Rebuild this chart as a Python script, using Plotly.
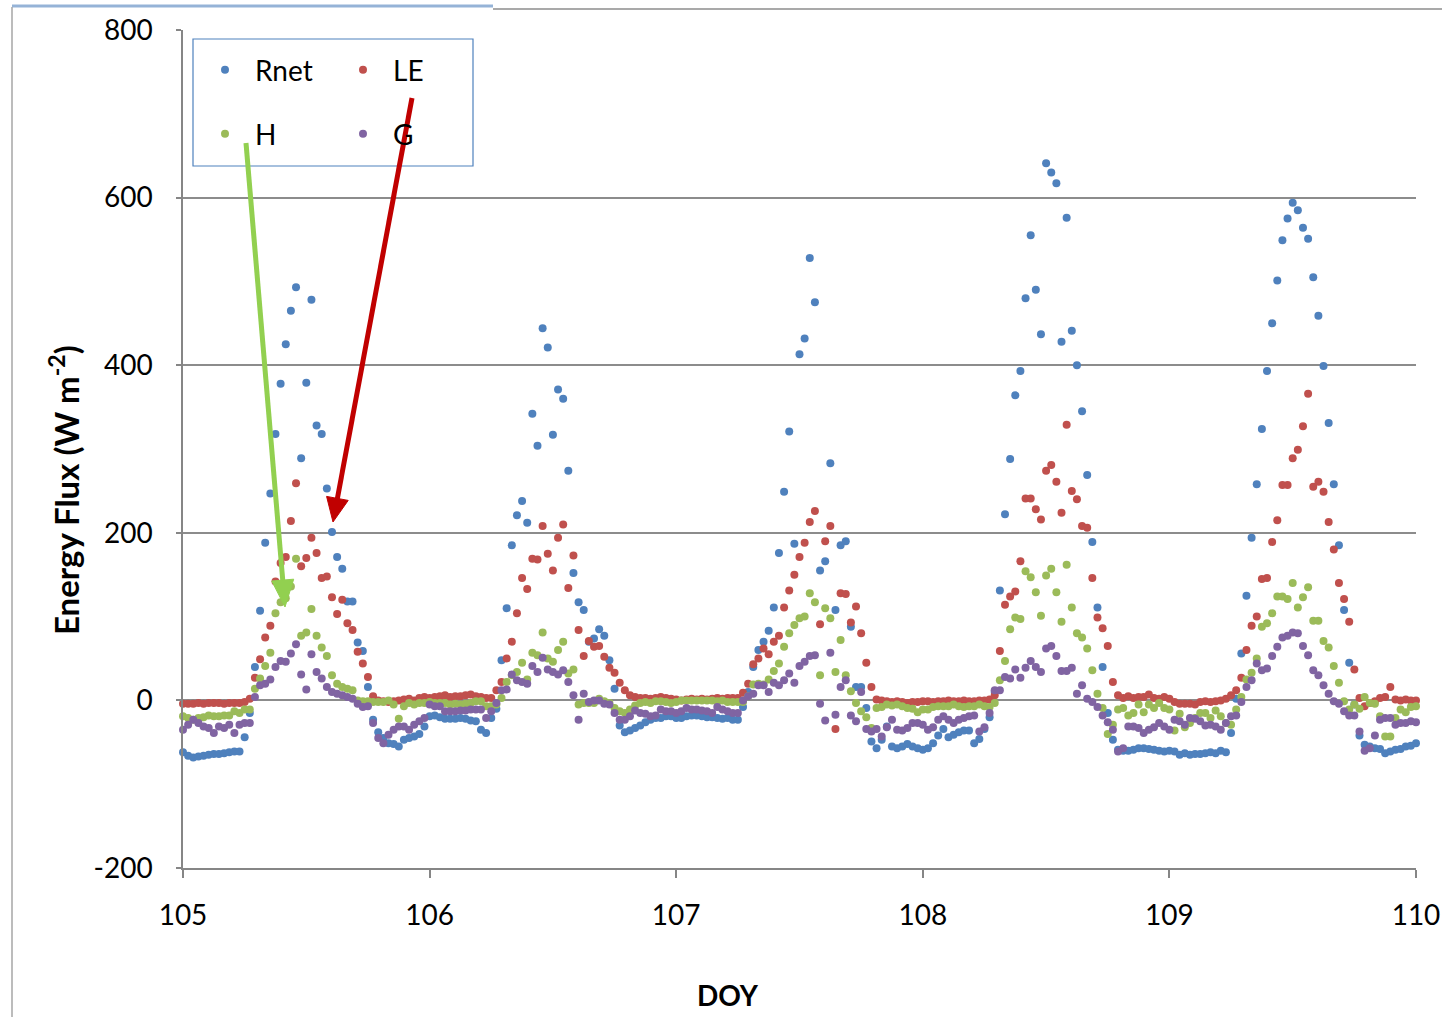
import numpy as np
import plotly.graph_objects as go

# Half-hourly energy balance components, DOY 105-110
rnet = [
    # DOY 105
    -62, -66, -68, -67, -66, -65, -64, -64, -63, -62, -61, -61,
    -44, -15, 40, 107, 188, 247, 318, 378, 425, 465, 493, 289,
    379, 478, 328, 318, 253, 201, 171, 157, 118, 118, 69, 59,
    16, -23, -38, -45, -51, -52, -55, -47, -45, -43, -40, -31,
    # DOY 106
    -19, -18, -20, -22, -22, -22, -21, -22, -24, -25, -35, -39,
    -21, -10, 48, 110, 185, 221, 238, 212, 342, 304, 444, 421,
    317, 371, 360, 274, 152, 117, 108, 70, 74, 85, 77, 48,
    14, -30, -38, -36, -33, -30, -26, -23, -21, -21, -19, -19,
    # DOY 107
    -21, -21, -19, -18, -18, -19, -20, -20, -21, -22, -21, -23,
    -23, -8, 10, 40, 60, 70, 83, 111, 176, 249, 321, 187,
    413, 432, 528, 475, 155, 166, 283, 108, 185, 190, 88, 16,
    16, -9, -49, -57, -47, -31, -55, -57, -55, -52, -55, -57,
    # DOY 108
    -59, -57, -51, -42, -34, -44, -41, -38, -36, -36, -51, -46,
    -34, -20, 10, 131, 222, 288, 364, 393, 480, 555, 490, 437,
    641, 630, 617, 428, 576, 441, 400, 345, 269, 189, 111, 40,
    -15, -47, -59, -60, -60, -59, -57, -57, -58, -59, -60, -61,
    # DOY 109
    -60, -61, -65, -63, -65, -64, -64, -63, -62, -63, -60, -62,
    -39, 2, 56, 125, 194, 258, 324, 393, 450, 501, 549, 575,
    594, 585, 564, 551, 505, 459, 399, 331, 258, 185, 108, 45,
    -5, -42, -53, -55, -57, -58, -63, -61, -59, -58, -55, -54,
    -51,
]

le = [
    # DOY 105
    -4, -4, -4, -3, -4, -3, -3, -3, -4, -3, -3, -3,
    -2, 2, 27, 49, 75, 89, 142, 164, 171, 214, 259, 160,
    170, 194, 176, 146, 148, 123, 103, 120, 92, 84, 58, 44,
    28, 5, 0, -1, -2, -1, 0, 1, 2, 0, 3, 4,
    # DOY 106
    3, 4, 5, 6, 4, 5, 5, 6, 7, 5, 4, 3,
    3, 12, 22, 50, 70, 104, 146, 133, 169, 168, 208, 175,
    155, 194, 210, 134, 173, 84, 53, 71, 64, 65, 52, 39,
    33, 21, 12, 6, 4, 3, 3, 2, 3, 4, 3, 2,
    # DOY 107
    1, 0, 1, 2, 1, 2, 1, 2, 3, 2, 3, 3,
    3, 9, 20, 43, 50, 62, 55, 70, 77, 111, 131, 150,
    171, 188, 213, 226, 91, 190, 208, -34, 128, 127, 93, 112,
    80, 45, 16, 1, 0, -1, -2, -1, -2, -3, -2, -2,
    # DOY 108
    -1, -1, -2, -1, -1, 0, -1, -1, 0, -1, -1, 0,
    0, 1, 6, 59, 114, 124, 130, 166, 241, 241, 228, 216,
    274, 281, 261, 224, 329, 250, 240, 208, 206, 146, 99, 86,
    65, 22, 6, 3, 5, 3, 4, 4, 7, 3, 2, 4,
    # DOY 109
    2, -2, -4, -4, -4, -5, -2, -1, -2, -1, 0, 2,
    6, 12, 27, 60, 89, 100, 145, 146, 189, 215, 257, 257,
    289, 299, 327, 366, 255, 261, 249, 213, 180, 140, 121, 94,
    37, 3, -7, -3, -1, 3, 4, 16, 1, 0, 1, 0,
    0,
]

h = [
    # DOY 105
    -19, -21, -23, -21, -20, -18, -19, -19, -18, -18, -13, -15,
    -11, -11, 14, 26, 41, 57, 104, 117, 122, 136, 169, 77,
    81, 109, 77, 63, 53, 30, 20, 16, 14, 12, 0, -1,
    -1, -2, -2, -2, 0, -5, -22, -7, -3, -5, -3, -3,
    # DOY 106
    -2, -3, -3, -3, -5, -4, -5, -4, -3, -1, -1, -7,
    -7, -5, 3, 22, 30, 34, 45, 25, 57, 54, 81, 50,
    46, 60, 70, 32, 37, -5, -3, -3, -3, 2, -1, -3,
    -9, -13, -15, -11, -6, -3, -2, -3, -1, -1, -2, -3,
    # DOY 107
    -2, 0, 0, 0, 0, 0, 0, 0, -1, 0, -2, -2,
    -2, -2, 5, 19, 20, 19, 25, 35, 44, 64, 80, 90,
    98, 100, 128, 117, 30, 110, 98, 34, 72, 30, 11, -3,
    -13, -20, -33, -9, -8, -5, -6, -5, -7, -9, -10, -14,
    # DOY 108
    -11, -11, -8, -7, -7, -7, -5, -7, -8, -7, -7, -5,
    -7, -8, -3, 24, 47, 85, 99, 97, 154, 147, 129, 101,
    149, 157, 129, 94, 162, 111, 80, 75, 62, 36, 8, -9,
    -40, -29, -11, -9, -18, -15, -5, -14, -5, -9, -3, -9,
    # DOY 109
    -11, -36, -16, -32, -27, -21, -15, -15, -21, -12, -19, -27,
    -29, -11, 4, 25, 33, 50, 88, 92, 104, 124, 124, 121,
    140, 111, 123, 135, 95, 95, 71, 63, 41, 21, -1, -11,
    -5, -10, 4, -3, -4, -19, -43, -43, -21, -11, -14, -8,
    -7,
]

g = [
    # DOY 105
    -35, -29, -23, -27, -31, -33, -39, -31, -33, -29, -39, -29,
    -27, -27, 4, 18, 20, 25, 40, 47, 46, 56, 67, 31,
    13, 55, 34, 26, 16, 10, 8, 6, 4, 2, -4, -8,
    -7, -27, -45, -51, -41, -35, -31, -31, -35, -29, -25, -21,
    # DOY 106
    -5, -7, -7, -13, -13, -13, -12, -12, -11, -11, -11, -21,
    -13, -3, 12, 13, 31, 24, 22, 20, 41, 34, 51, 37,
    34, 31, 36, 22, 6, -23, 8, -2, 0, 0, -4, -5,
    -15, -23, -23, -19, -12, -15, -16, -19, -18, -11, -13, -13,
    # DOY 107
    -15, -13, -9, -11, -11, -12, -13, -15, -8, -11, -13, -15,
    -15, 0, 5, 8, 18, 18, 10, 21, 18, 24, 32, 21,
    41, 46, 53, 54, -4, -24, 57, -17, 16, 24, -18, -25,
    10, -34, -37, -34, -43, -32, -23, -35, -36, -33, -27, -27,
    # DOY 108
    -29, -35, -32, -23, -19, -23, -27, -23, -21, -19, -18, -37,
    -32, -15, 12, 12, 28, 26, 37, 27, 39, 47, 40, 34,
    62, 65, 53, 35, 35, 39, 8, 18, 2, -2, -8, -18,
    -26, -35, -61, -57, -31, -31, -33, -39, -35, -32, -27, -31,
    # DOY 109
    -35, -23, -25, -29, -21, -22, -25, -30, -29, -31, -35, -27,
    -19, -18, -2, 16, 24, 44, 36, 38, 53, 64, 75, 77,
    81, 80, 65, 54, 36, 30, 18, 8, -1, -4, -13, -18,
    -18, -37, -60, -57, -42, -23, -21, -21, -29, -27, -27, -25,
    -26,
]

# Half-hour time stamps as fractional day of year
doy = 105 + np.arange(len(rnet)) / 48.0

y_tickvals = [-200, 0, 200, 400, 600, 800]
y_ticktext = ["-200", "0", "200", "400", "600", "800"]
x_tickvals = [105, 106, 107, 108, 109, 110]
x_ticktext = ["105", "106", "107", "108", "109", "110"]

series = [
    ("Rnet", rnet, "#4F81BD", "legend"),
    ("LE", le, "#C0504D", "legend3"),
    ("H", h, "#9BBB59", "legend2"),
    ("G", g, "#8064A2", "legend4"),
]

FONT = "Lato, 'Open Sans', 'Liberation Sans', sans-serif"

fig = go.Figure()
for name, vals, color, leg in series:
    fig.add_trace(go.Scatter(
        x=doy, y=vals, mode="markers", name=name, legend=leg,
        marker=dict(color=color, size=8, line=dict(width=0)),
        cliponaxis=False,
    ))

W, H = 1442, 1017
L, R, T, B = 183, 26, 30, 149
pw, ph = W - L - R, H - T - B


def px_x(px):
    return (px - L) / pw


def px_y(py):
    return (H - B - py) / ph


legend_common = dict(
    bgcolor="rgba(0,0,0,0)", borderwidth=0, font=dict(family=FONT, size=28, color="black"),
    xanchor="left", yanchor="middle", itemwidth=50, itemclick=False,
)

fig.update_layout(
    width=W, height=H,
    margin=dict(l=L, r=R, t=T, b=B, autoexpand=False),
    paper_bgcolor="white", plot_bgcolor="white",
    font=dict(family=FONT, size=28, color="black"),
    xaxis=dict(
        range=[105, 110], tickvals=x_tickvals, ticktext=x_ticktext,
        showgrid=False, zeroline=False, automargin=False,
        showline=True, linecolor="#868686", linewidth=1.5,
        ticks="outside", ticklen=8, tickcolor="#868686", tickwidth=1.5,
        ticklabelstandoff=14,
        tickfont=dict(family=FONT, size=28, color="black"),
    ),
    yaxis=dict(
        range=[-200, 800], tickvals=y_tickvals, ticktext=y_ticktext,
        showgrid=True, gridcolor="#8C8C8C", gridwidth=1.5,
        zeroline=False, automargin=False,
        showline=True, linecolor="#868686", linewidth=1.5,
        ticks="outside", ticklen=5, tickcolor="#868686", tickwidth=1.5,
        ticklabelstandoff=18,
        tickfont=dict(family=FONT, size=28, color="black"),
    ),
    legend=dict(x=px_x(195), y=px_y(70), **legend_common),
    legend2=dict(x=px_x(195), y=px_y(134), **legend_common),
    legend3=dict(x=px_x(333), y=px_y(70), **legend_common),
    legend4=dict(x=px_x(333), y=px_y(134), **legend_common),
    showlegend=True,
)

# Legend frame, chart border strokes
fig.add_shape(type="rect", xref="paper", yref="paper",
              x0=px_x(193), x1=px_x(473), y0=px_y(166), y1=px_y(39),
              line=dict(color="#4F81BD", width=1.2), fillcolor="rgba(0,0,0,0)", layer="below")
fig.add_shape(type="line", xref="paper", yref="paper",
              x0=px_x(12), x1=px_x(493), y0=px_y(6), y1=px_y(6),
              line=dict(color="#95B3D7", width=3))
fig.add_shape(type="line", xref="paper", yref="paper",
              x0=px_x(493), x1=px_x(1442), y0=px_y(9), y1=px_y(9),
              line=dict(color="#8C8C8C", width=1.5))
fig.add_shape(type="line", xref="paper", yref="paper",
              x0=px_x(12), x1=px_x(12), y0=px_y(7), y1=px_y(1017),
              line=dict(color="#A6A6A6", width=1.5))

# Axis titles
fig.add_annotation(xref="paper", yref="paper", x=px_x(64), y=px_y(490),
                   xanchor="center", yanchor="middle",
                   text="<b>Energy Flux (W m<sup>-2</sup>)</b>", textangle=-90,
                   showarrow=False, font=dict(family=FONT, size=33, color="black"))
fig.add_annotation(xref="paper", yref="paper", x=px_x(728), y=px_y(995),
                   xanchor="center", yanchor="middle",
                   text="<b>DOY</b>", showarrow=False,
                   font=dict(family=FONT, size=28, color="black"))


def add_arrow(tail, tip, color, head_len, head_half):
    """Thick pointer arrow (shaft + filled head) given in page pixels."""
    tx, ty = tail
    hx, hy = tip
    dx, dy = hx - tx, hy - ty
    n = (dx * dx + dy * dy) ** 0.5
    ux, uy = dx / n, dy / n
    bx, by = hx - head_len * ux, hy - head_len * uy
    nx, ny = -uy, ux
    fig.add_shape(type="line", xref="paper", yref="paper",
                  x0=px_x(tx), y0=px_y(ty), x1=px_x(bx + ux * 2), y1=px_y(by + uy * 2),
                  line=dict(color=color, width=5))
    c1 = (bx + head_half * nx, by + head_half * ny)
    c2 = (bx - head_half * nx, by - head_half * ny)
    path = "M {} {} L {} {} L {} {} Z".format(
        px_x(hx), px_y(hy), px_x(c1[0]), px_y(c1[1]), px_x(c2[0]), px_y(c2[1]))
    fig.add_shape(type="path", xref="paper", yref="paper", path=path,
                  fillcolor=color, line=dict(color=color, width=1))


# Pointer arrows to the H and LE peaks on DOY 105
add_arrow((246, 143), (285, 607), "#92D050", 27, 11)
add_arrow((412, 98), (333, 522), "#C00000", 24, 11)

fig.write_html("out.html")
